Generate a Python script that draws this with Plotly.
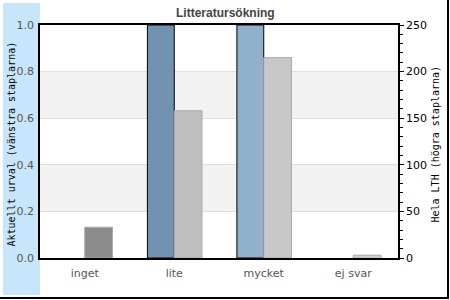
import plotly.graph_objects as go

categories = ["inget", "lite", "mycket", "ej svar"]
aktuellt_urval = [0.0, 1.0, 1.0, 0.0]          # left axis
hela_lth = [33, 158, 215, 3]                   # right axis
left_colors = ["#7193af", "#7193af", "#90b0cb", "#90b0cb"]
right_colors = ["#8c8c8c", "#bfbfbf", "#c8c8c8", "#d2d2d2"]
left_ticks = [0.0, 0.2, 0.4, 0.6, 0.8, 1.0]
right_ticks = [0, 50, 100, 150, 200, 250]

W, H = 450, 300
L, R, T, B = 40, 52, 25, 42
PW, PH = W - L - R, H - T - B


def px_x(p):
    return (p - L) / PW


def px_y(p):
    return (H - B - p) / PH


fig = go.Figure()
fig.add_trace(go.Bar(
    x=categories, y=aktuellt_urval, yaxis="y", width=0.3, offset=-0.3,
    marker=dict(color=left_colors,
                line=dict(color="black", width=[1 if v > 0 else 0 for v in aktuellt_urval])),
    showlegend=False, hoverinfo="skip"))
fig.add_trace(go.Bar(
    x=categories, y=hela_lth, yaxis="y2", width=0.31, offset=0.0,
    marker=dict(color=right_colors, line=dict(color="#aaaaaa", width=1)),
    showlegend=False, hoverinfo="skip"))

shapes = [
    dict(type="rect", xref="paper", yref="paper", x0=px_x(3), x1=px_x(40),
         y0=px_y(295), y1=px_y(3), fillcolor="#c8e6fb", line=dict(width=0), layer="below"),
    dict(type="rect", xref="x domain", yref="y", x0=0, x1=1, y0=0.2, y1=0.4,
         fillcolor="#f2f2f2", line=dict(width=0), layer="below"),
    dict(type="rect", xref="x domain", yref="y", x0=0, x1=1, y0=0.6, y1=0.8,
         fillcolor="#f2f2f2", line=dict(width=0), layer="below"),
    dict(type="line", xref="paper", yref="paper", x0=px_x(448), x1=px_x(448),
         y0=px_y(0), y1=px_y(298), line=dict(color="black", width=2)),
    dict(type="line", xref="paper", yref="paper", x0=px_x(0), x1=px_x(449),
         y0=px_y(298), y1=px_y(298), line=dict(color="black", width=2)),
]

annotations = [
    dict(text="<b>Litteratursökning</b>", xref="paper", yref="paper",
         x=px_x(225), y=px_y(13), xanchor="center", yanchor="middle", showarrow=False,
         font=dict(family="Liberation Sans", size=12, color="#444444")),
    dict(text="Aktuellt urval (vänstra staplarna)", xref="paper", yref="paper",
         x=px_x(10.5), y=px_y(144), xanchor="center", yanchor="middle",
         textangle=-90, showarrow=False,
         font=dict(family="DejaVu Sans Mono", size=10, color="black")),
    dict(text="Hela LTH (högra staplarna)", xref="paper", yref="paper",
         x=px_x(434.5), y=px_y(144), xanchor="center", yanchor="middle",
         textangle=-90, showarrow=False,
         font=dict(family="DejaVu Sans Mono", size=10, color="black")),
]

fig.update_layout(
    width=W, height=H,
    margin=dict(l=L, r=R, t=T, b=B),
    paper_bgcolor="white", plot_bgcolor="white",
    barmode="overlay",
    shapes=shapes, annotations=annotations,
    xaxis=dict(showline=True, linecolor="black", linewidth=1.5, mirror=True,
               ticks="outside", ticklen=4, tickcolor="rgba(0,0,0,0)",
               tickfont=dict(family="DejaVu Sans", size=11, color="#555555"),
               showgrid=False, fixedrange=True),
    yaxis=dict(range=[0, 1], tickvals=left_ticks, ticktext=[f"{v:.1f}" for v in left_ticks],
               showline=True, linecolor="black", linewidth=1.5,
               ticks="outside", ticklen=2, tickcolor="rgba(0,0,0,0)",
               tickfont=dict(family="DejaVu Sans", size=11, color="#555555"),
               showgrid=True, gridcolor="#e0e0e0", gridwidth=1, zeroline=False,
               fixedrange=True),
    yaxis2=dict(range=[0, 250], tickvals=right_ticks, overlaying="y", side="right",
                showline=True, linecolor="black", linewidth=1.5,
                ticks="outside", ticklen=4, tickcolor="black",
                minor=dict(dtick=10, ticks="outside", ticklen=3, tickcolor="black"),
                tickfont=dict(family="DejaVu Sans", size=11, color="black"),
                showgrid=False, zeroline=False, fixedrange=True),
)

fig.write_html("out.html", config={"displayModeBar": False})
